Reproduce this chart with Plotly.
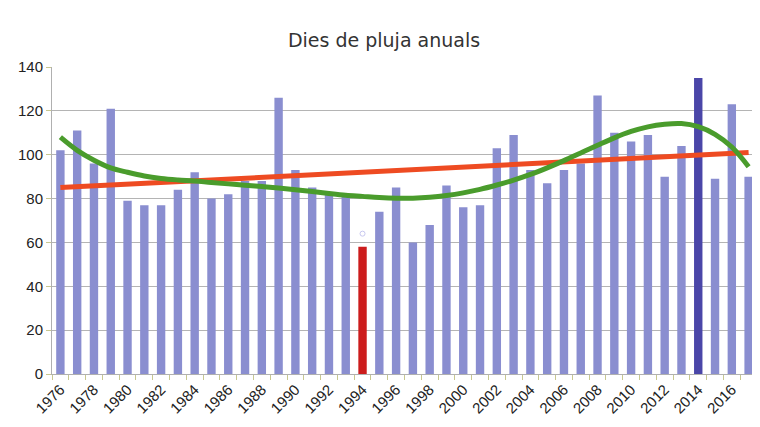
import plotly.graph_objects as go

# dades
years = list(range(1976, 2018))
rain_days = [102, 111, 96, 121, 79, 77, 77, 84, 92, 80,
             82, 88, 88, 126, 93, 85, 82, 81, 58, 74,
             85, 60, 68, 86, 76, 77, 103, 109, 93, 87,
             93, 96, 127, 110, 106, 109, 90, 104, 135, 89,
             123, 90]
# tendencia lineal (llegida del grafic)
trend_years = [1976, 2017]
trend_vals = [85, 101]
# tendencia polinomica (llegida del grafic)
poly_vals = [108, 102, 97.5, 94, 92, 90.3, 89.2, 88.5, 88, 87.3,
             86.7, 86.1, 85.5, 84.8, 84, 83.2, 82.3, 81.5, 81, 80.5,
             80.2, 80.2, 80.6, 81.4, 82.6, 84.2, 86.2, 88.4, 91, 94,
             97.3, 100.8, 104.3, 107.7, 110.6, 112.7, 113.9, 114.2, 112.8, 109.3,
             103.5, 94.5]
tick_years = list(range(1976, 2017, 2))

bar_colors = []
for y in years:
    if y == 1994:
        bar_colors.append('#cc1c1c')
    elif y == 2014:
        bar_colors.append('#4a46a8')
    else:
        bar_colors.append('#8a8ed0')

fig = go.Figure()
fig.add_trace(go.Bar(x=years, y=rain_days, marker_color=bar_colors,
                     marker_line_width=0, width=0.5))
fig.add_trace(go.Scatter(x=trend_years, y=trend_vals, mode='lines',
                         line=dict(color='#ee4b22', width=5)))
fig.add_trace(go.Scatter(x=years, y=poly_vals, mode='lines',
                         line=dict(color='#4a9c2c', width=5, shape='spline')))
fig.add_trace(go.Scatter(x=[1994], y=[64], mode='markers',
                         marker=dict(symbol='circle-open', size=5, color='#c8c8f0')))

# the page body adds an 8px margin, so the figure is a bit smaller
fig.update_layout(
    width=752, height=419,
    margin=dict(l=44, r=3, t=59, b=53),
    paper_bgcolor='white', plot_bgcolor='white',
    showlegend=False,
    title=dict(text='Dies de pluja anuals', x=0.5, xanchor='center',
               y=0.923, yanchor='middle',
               font=dict(family='DejaVu Sans', size=19, color='#333333')),
    font=dict(family='Liberation Sans', size=15, color='#222222'),
    xaxis=dict(range=[1975.5, 2017.5], tickvals=tick_years, tickangle=-45,
               showgrid=False, ticks='', showline=True, linecolor='#b0b0b0',
               automargin=False, tickfont=dict(size=15),
               minor=dict(tickmode='linear', tick0=1975.5, dtick=1, ticks='outside',
                          ticklen=5, tickcolor='#c8c890', showgrid=False)),
    yaxis=dict(range=[0, 140], dtick=20, showgrid=True, gridcolor='#b4b4b4',
               showline=True, linecolor='#b0b0b0', ticks='outside', ticklen=5,
               tickcolor='#c8c890', zeroline=False, automargin=False,
               tickfont=dict(size=15)),
)

fig.write_html("out.html")
